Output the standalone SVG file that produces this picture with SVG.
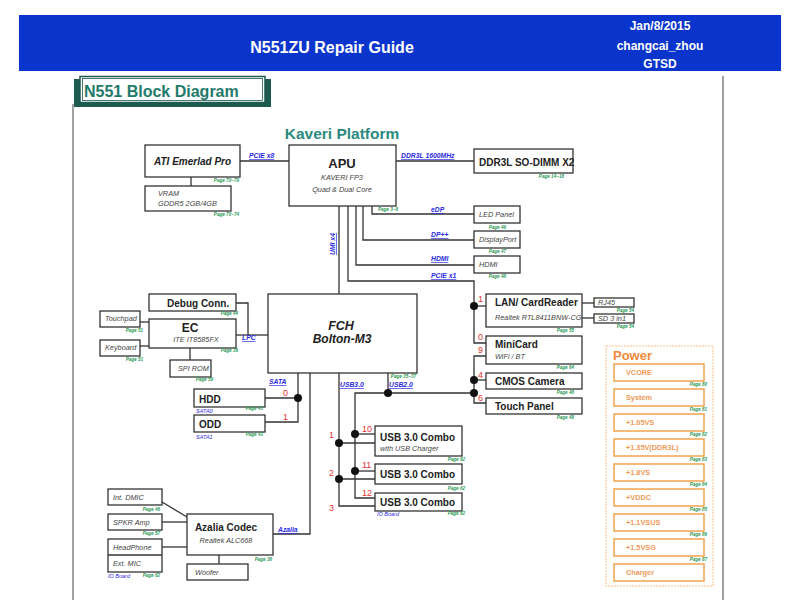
<svg xmlns="http://www.w3.org/2000/svg" width="800" height="600" viewBox="0 0 800 600">
<style>
text{font-family:"Liberation Sans",Arial,sans-serif}
.box{fill:#fff;stroke:#333;stroke-width:1.3}
.ln{fill:none;stroke:#333;stroke-width:1.3}
.dot{fill:#111}
.b{font-weight:bold;font-size:10px;fill:#222}
.i{font-style:italic;font-size:7.3px;fill:#444}
.pg{font-style:italic;font-weight:bold;font-size:4.6px;fill:#2a9a55;text-anchor:end}
.bl{font-style:italic;font-weight:bold;font-size:6.8px;fill:#2a2ae0;text-decoration:underline}
.bs{font-style:italic;font-size:5.5px;fill:#2a2ae0}
.rd{font-size:9px;fill:#e83030}
.pbox{fill:#fff;stroke:#f2a24e;stroke-width:1.5}
.pt{font-size:7.3px;font-weight:bold;fill:#f09a58}
</style>
<rect x="0" y="0" width="800" height="600" fill="#fff"/>
<g id="header">
<rect x="19" y="15" width="762" height="56" fill="#0a35cc"/>
<text x="332" y="53" text-anchor="middle" font-size="16" font-weight="bold" fill="#fff">N551ZU Repair Guide</text>
<text x="660" y="30" text-anchor="middle" font-size="12" font-weight="bold" fill="#fff">Jan/8/2015</text>
<text x="660" y="50" text-anchor="middle" font-size="12" font-weight="bold" fill="#fff">changcai_zhou</text>
<text x="660" y="68" text-anchor="middle" font-size="12" font-weight="bold" fill="#fff">GTSD</text>
</g>
<g id="frame">
<line x1="73" y1="104" x2="73" y2="600" stroke="#444" stroke-width="1"/>
<line x1="723" y1="76" x2="723" y2="600" stroke="#444" stroke-width="1"/>
<rect x="74" y="79" width="197" height="28" fill="#1d5a50"/>
<rect x="80" y="76.5" width="185" height="26" fill="#fff" stroke="#1d5a50" stroke-width="1.5"/>
<rect x="82.5" y="78.5" width="180" height="22" fill="none" stroke="#1d5a50" stroke-width="0.8"/>
<text x="84" y="97" font-size="16" font-weight="bold" fill="#1f7a6c">N551  Block Diagram</text>
<text x="342" y="139" text-anchor="middle" font-size="15.5" font-weight="bold" fill="#2a8a80">Kaveri Platform</text>
</g>
<g id="connectors">
<path class="ln" d="M191 177V186"/>
<path class="ln" d="M240 161H289"/>
<path class="ln" d="M396 161H474"/>
<path class="ln" d="M372 206V214H474"/>
<path class="ln" d="M363 206V240H474"/>
<path class="ln" d="M356 206V265H474"/>
<path class="ln" d="M348 206V281H474V343H486"/>
<path class="ln" d="M474 306H486"/>
<path class="ln" d="M339 206V294"/>
<path class="ln" d="M582 303H594"/>
<path class="ln" d="M582 318H594"/>
<path class="ln" d="M486 356H474V403H486"/>
<path class="ln" d="M474 380H486"/>
<path class="ln" d="M388 373V393"/>
<path class="ln" d="M474 393H355V498H375"/>
<path class="ln" d="M355 434H375"/>
<path class="ln" d="M355 471H375"/>
<path class="ln" d="M339 373V506H375"/>
<path class="ln" d="M339 443H375"/>
<path class="ln" d="M339 479H375"/>
<path class="ln" d="M298 373V422H265"/>
<path class="ln" d="M265 398H298"/>
<path class="ln" d="M310 373V534H273"/>
<path class="ln" d="M236 303H248V335"/>
<path class="ln" d="M236 335H268"/>
<path class="ln" d="M140 322H149"/>
<path class="ln" d="M140 346H149"/>
<path class="ln" d="M190 348V360"/>
<path class="ln" d="M162 502L187 517"/>
<path class="ln" d="M162 522H187"/>
<path class="ln" d="M162 547H187"/>
<path class="ln" d="M219 555V564"/>
<circle class="dot" cx="474" cy="306" r="4"/>
<circle class="dot" cx="474" cy="380" r="4"/>
<circle class="dot" cx="474" cy="393" r="4"/>
<circle class="dot" cx="388" cy="393" r="4"/>
<circle class="dot" cx="355" cy="434" r="4"/>
<circle class="dot" cx="355" cy="471" r="4"/>
<circle class="dot" cx="339" cy="443" r="4"/>
<circle class="dot" cx="339" cy="479" r="4"/>
<circle class="dot" cx="298" cy="398" r="4"/>
<text class="bl" x="249" y="158">PCIE x8</text>
<text class="bl" x="401" y="158">DDR3L 1600MHz</text>
<text class="bl" x="431" y="212">eDP</text>
<text class="bl" x="431" y="237">DP++</text>
<text class="bl" x="431" y="261">HDMI</text>
<text class="bl" x="431" y="278">PCIE x1</text>
<text class="bl" transform="translate(335,255) rotate(-90)">UMI x4</text>
<text class="bl" x="242" y="340">LPC</text>
<text class="bl" x="269" y="384">SATA</text>
<text class="bl" x="340" y="387">USB3.0</text>
<text class="bl" x="389" y="387">USB2.0</text>
<text class="bl" x="278" y="532">Azalia</text>
<text class="rd" x="478" y="302">1</text>
<text class="rd" x="478" y="340">0</text>
<text class="rd" x="478" y="353">9</text>
<text class="rd" x="478" y="378">4</text>
<text class="rd" x="478" y="401">6</text>
<text class="rd" x="283" y="396">0</text>
<text class="rd" x="283" y="420">1</text>
<text class="rd" x="329" y="438">1</text>
<text class="rd" x="329" y="476">2</text>
<text class="rd" x="329" y="511">3</text>
<text class="rd" x="362" y="432">10</text>
<text class="rd" x="362" y="468">11</text>
<text class="rd" x="362" y="496">12</text>
</g>
<g id="ati">
<rect class="box" x="145" y="145" width="95" height="32"/>
<text x="154" y="165" font-size="10" font-weight="bold" font-style="italic" fill="#222">ATI Emerlad Pro</text>
<text class="pg" x="239" y="182">Page 70~79</text>
</g>
<g id="vram">
<rect class="box" x="145" y="186" width="86" height="25"/>
<text class="i" x="158" y="196">VRAM</text>
<text class="i" x="158" y="206">GDDR5 2GB/4GB</text>
<text class="pg" x="239" y="216">Page 70~74</text>
</g>
<g id="apu">
<rect class="box" x="289" y="145" width="107" height="61"/>
<text x="342" y="168" text-anchor="middle" font-size="13" font-weight="bold" fill="#222">APU</text>
<text class="i" x="342" y="180" text-anchor="middle">KAVERI FP3</text>
<text class="i" x="342" y="192" text-anchor="middle">Quad &amp; Dual Core</text>
<text class="pg" x="398" y="211">Page 3~8</text>
</g>
<g id="ddr">
<rect class="box" x="474" y="149" width="99" height="24"/>
<text class="b" x="479" y="166" font-size="9.5">DDR3L SO-DIMM X2</text>
<text class="pg" x="564" y="178">Page 14~18</text>
</g>
<g id="led">
<rect class="box" x="474" y="206" width="46" height="17"/>
<text class="i" x="479" y="217">LED Panel</text>
<text class="pg" x="506" y="229">Page 46</text>
</g>
<g id="dp">
<rect class="box" x="474" y="231" width="46" height="17"/>
<text class="i" x="479" y="242">DisplayPort</text>
<text class="pg" x="506" y="253">Page 47</text>
</g>
<g id="hdmi">
<rect class="box" x="474" y="256" width="46" height="17"/>
<text class="i" x="479" y="267">HDMI</text>
<text class="pg" x="506" y="278">Page 48</text>
</g>
<g id="lan">
<rect class="box" x="486" y="294" width="96" height="33"/>
<text class="b" x="495" y="306">LAN/ CardReader</text>
<text class="i" x="495" y="320">Realtek RTL8411BNW-CG</text>
<text class="pg" x="574" y="332">Page 55</text>
</g>
<g id="rj45">
<rect class="box" x="594" y="298" width="40" height="9"/>
<text class="i" x="598" y="305" font-size="6.5">RJ45</text>
<text class="pg" x="634" y="312">Page 54</text>
</g>
<g id="sd">
<rect class="box" x="594" y="314" width="40" height="9"/>
<text class="i" x="598" y="321" font-size="6.5">SD 3 in1</text>
<text class="pg" x="634" y="328">Page 54</text>
</g>
<g id="minicard">
<rect class="box" x="486" y="336" width="96" height="28"/>
<text class="b" x="495" y="348">MiniCard</text>
<text class="i" x="495" y="359">WiFi / BT</text>
<text class="pg" x="574" y="369">Page 64</text>
</g>
<g id="cmos">
<rect class="box" x="486" y="373" width="96" height="16"/>
<text class="b" x="495" y="385">CMOS Camera</text>
<text class="pg" x="574" y="394">Page 48</text>
</g>
<g id="touchpanel">
<rect class="box" x="486" y="398" width="96" height="16"/>
<text class="b" x="495" y="410">Touch Panel</text>
<text class="pg" x="574" y="419">Page 48</text>
</g>
<g id="fch">
<rect class="box" x="268" y="294" width="149" height="79"/>
<text x="341" y="330" text-anchor="middle" font-size="12.5" font-weight="bold" font-style="italic" fill="#222">FCH</text>
<text x="342" y="343" text-anchor="middle" font-size="12" font-weight="bold" font-style="italic" fill="#222">Bolton-M3</text>
<text class="pg" x="416" y="378">Page 35~37</text>
</g>
<g id="debug">
<rect class="box" x="149" y="294" width="87" height="17"/>
<text class="b" x="167" y="307" font-size="9.5">Debug Conn.</text>
<text class="pg" x="238" y="315">Page 44</text>
</g>
<g id="ec">
<rect class="box" x="149" y="319" width="87" height="29"/>
<text x="190" y="332" text-anchor="middle" font-size="12" font-weight="bold" fill="#222">EC</text>
<text class="i" x="196" y="342" text-anchor="middle">ITE IT8585FX</text>
<text class="pg" x="238" y="352">Page 36</text>
</g>
<g id="touchpad">
<rect class="box" x="100" y="311" width="40" height="16"/>
<text class="i" x="105" y="321">Touchpad</text>
<text class="pg" x="143" y="332">Page 51</text>
</g>
<g id="keyboard">
<rect class="box" x="100" y="340" width="40" height="16"/>
<text class="i" x="105" y="350">Keyboard</text>
<text class="pg" x="143" y="361">Page 51</text>
</g>
<g id="spirom">
<rect class="box" x="170" y="360" width="41" height="17"/>
<text class="i" x="178" y="371">SPI ROM</text>
<text class="pg" x="213" y="381">Page 59</text>
</g>
<g id="hdd">
<rect class="box" x="194" y="389" width="71" height="18"/>
<text class="b" x="199" y="403" font-size="10.5">HDD</text>
<text class="bs" x="196" y="413">SATA0</text>
<text class="pg" x="263" y="410">Page 41</text>
</g>
<g id="odd">
<rect class="box" x="194" y="415" width="71" height="17"/>
<text class="b" x="199" y="428" font-size="10.5">ODD</text>
<text class="bs" x="196" y="439">SATA1</text>
<text class="pg" x="263" y="436">Page 41</text>
</g>
<g id="usb1">
<rect class="box" x="375" y="426" width="87" height="30"/>
<text class="b" x="380" y="441">USB 3.0 Combo</text>
<text class="i" x="380" y="451">with USB Charger</text>
<text class="pg" x="465" y="461">Page 62</text>
</g>
<g id="usb2">
<rect class="box" x="375" y="464" width="87" height="20"/>
<text class="b" x="380" y="478">USB 3.0 Combo</text>
<text class="pg" x="465" y="490">Page 62</text>
</g>
<g id="usb3">
<rect class="box" x="375" y="493" width="87" height="18"/>
<text class="b" x="380" y="506">USB 3.0 Combo</text>
<text class="bs" x="377" y="516">IO Board</text>
<text class="pg" x="465" y="515">Page 62</text>
</g>
<g id="dmic">
<rect class="box" x="108" y="489" width="54" height="16"/>
<text class="i" x="113" y="500">Int. DMIC</text>
<text class="pg" x="160" y="511">Page 46</text>
</g>
<g id="spkr">
<rect class="box" x="108" y="514" width="54" height="16"/>
<text class="i" x="113" y="525">SPKR Amp</text>
<text class="pg" x="160" y="535">Page 57</text>
</g>
<g id="jack">
<rect class="box" x="108" y="539" width="54" height="33"/>
<line x1="108" y1="555" x2="162" y2="555" stroke="#333" stroke-width="1.3"/>
<text class="i" x="113" y="550">HeadPhone</text>
<text class="i" x="113" y="566">Ext. MIC</text>
<text class="bs" x="108" y="578">IO Board</text>
<text class="pg" x="160" y="577">Page 62</text>
</g>
<g id="azalia">
<rect class="box" x="187" y="514" width="86" height="41"/>
<text class="b" x="226" y="531" text-anchor="middle">Azalia Codec</text>
<text class="i" x="226" y="543" text-anchor="middle">Realtek ALC668</text>
<text class="pg" x="272" y="561">Page 38</text>
</g>
<g id="woofer">
<rect class="box" x="187" y="564" width="61" height="16"/>
<text class="i" x="195" y="575">Woofer</text>
</g>
<g id="power">
<rect x="606" y="346" width="107" height="240" fill="#fff" stroke="#f7c08c" stroke-width="1" stroke-dasharray="2,1"/>
<text x="613" y="360" font-size="13" font-weight="bold" fill="#f08a3a">Power</text>
<rect class="pbox" x="614" y="364" width="90" height="17"/>
<text class="pt" x="626" y="375">VCORE</text>
<text class="pg" x="707" y="386">Page 80</text>
<rect class="pbox" x="614" y="389" width="90" height="17"/>
<text class="pt" x="626" y="400">System</text>
<text class="pg" x="707" y="411">Page 81</text>
<rect class="pbox" x="614" y="414" width="90" height="17"/>
<text class="pt" x="626" y="425">+1.05VS</text>
<text class="pg" x="707" y="436">Page 82</text>
<rect class="pbox" x="614" y="439" width="90" height="17"/>
<text class="pt" x="626" y="450">+1.35V(DDR3L)</text>
<text class="pg" x="707" y="461">Page 83</text>
<rect class="pbox" x="614" y="464" width="90" height="17"/>
<text class="pt" x="626" y="475">+1.8VS</text>
<text class="pg" x="707" y="486">Page 84</text>
<rect class="pbox" x="614" y="489" width="90" height="17"/>
<text class="pt" x="626" y="500">+VDDC</text>
<text class="pg" x="707" y="511">Page 85</text>
<rect class="pbox" x="614" y="514" width="90" height="17"/>
<text class="pt" x="626" y="525">+1.1VSUS</text>
<text class="pg" x="707" y="536">Page 86</text>
<rect class="pbox" x="614" y="539" width="90" height="17"/>
<text class="pt" x="626" y="550">+1.5VSG</text>
<text class="pg" x="707" y="561">Page 87</text>
<rect class="pbox" x="614" y="564" width="90" height="17"/>
<text class="pt" x="626" y="575">Charger</text>
</g>
</svg>
